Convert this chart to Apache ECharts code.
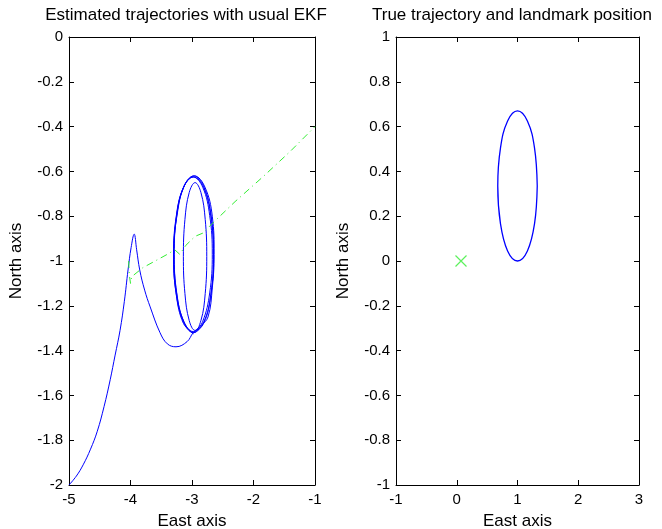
<!DOCTYPE html>
<html>
<head>
<meta charset="utf-8">
<script src="https://cdn.jsdelivr.net/npm/echarts@6/dist/echarts.min.js"></script>
<style>html,body{margin:0;padding:0;background:#fff}#c{width:662px;height:529px}</style>
</head>
<body>
<div id="c"></div>
<script>
// ---- Data ----
var titles = ['Estimated trajectories with usual EKF', 'True trajectory and landmark position'];
var xName = 'East axis';
var yName = 'North axis';

// Left panel: estimated trajectory (blue)
var estApproach = [
  [-5.0,-2.0],[-4.88,-1.96],[-4.77,-1.91],[-4.65,-1.84],[-4.54,-1.76],[-4.43,-1.65],[-4.33,-1.53],
  [-4.25,-1.42],[-4.17,-1.31],[-4.1,-1.18],[-4.04,-1.04],[-3.99,-0.94],[-3.94,-0.88],
  [-3.9,-0.95],[-3.85,-1.04],[-3.77,-1.13],[-3.68,-1.205],[-3.52,-1.32],[-3.4,-1.37],
  [-3.26,-1.383],[-3.08,-1.36],[-2.98,-1.32],[-2.86,-1.29],[-2.74,-1.25]
];
var estLoop1 = [[-2.67,-1.12],[-2.64,-0.97],[-2.67,-0.80],[-2.79,-0.67],[-2.96,-0.62],[-3.12,-0.66],
  [-3.24,-0.79],[-3.30,-0.97],[-3.26,-1.14],[-3.14,-1.27],[-2.98,-1.32]];
var estLoop2 = [[-2.81,-1.273],[-2.69,-1.145],[-2.65,-0.97],[-2.69,-0.795],[-2.81,-0.667],[-2.97,-0.62],
  [-3.13,-0.667],[-3.25,-0.795],[-3.29,-0.97],[-3.25,-1.145],[-3.13,-1.273],[-2.97,-1.32]];
var estLoop3 = [[-2.855,-1.266],[-2.785,-1.145],[-2.76,-0.98],[-2.785,-0.815],[-2.855,-0.694],[-2.95,-0.65],
  [-3.045,-0.694],[-3.115,-0.815],[-3.14,-0.98],[-3.115,-1.145],[-3.045,-1.266],[-2.95,-1.31]];
var estLoop4 = [[-2.825,-1.269],[-2.712,-1.1425],[-2.67,-0.97],[-2.712,-0.7975],[-2.825,-0.671],[-2.98,-0.625],
  [-3.135,-0.671],[-3.248,-0.7975],[-3.29,-0.97],[-3.248,-1.1425],[-3.135,-1.269],[-2.98,-1.315]];
var estLoop5 = [[-2.81,-1.278],[-2.694,-1.15],[-2.65,-0.975],[-2.694,-0.8],[-2.81,-0.672],[-2.975,-0.625],
  [-3.14,-0.672],[-3.256,-0.8],[-3.30,-0.975],[-3.256,-1.15],[-3.14,-1.278],[-2.975,-1.325]];

// Left panel: estimated landmark (green dash-dot)
var estLandmark = [[-4.03,-1.0],[-4.02,-1.06],[-4.0,-1.1],[-3.98,-1.07],[-3.8,-1.03],[-3.6,-1.0],
  [-3.4,-0.97],[-3.28,-0.95],[-3.2,-0.97],[-3.1,-0.93],[-2.95,-0.89],[-2.82,-0.875],[-2.66,-0.83],
  [-2.3,-0.735],[-1.83,-0.62],[-1.4,-0.51],[-1.0,-0.40]];

// Right panel: true trajectory (blue) and landmark (green x)
var trueTraj = [[1.325,0.335],[1.281,0.503],[1.163,0.625],[1.0,0.67],[0.837,0.625],[0.719,0.503],
  [0.675,0.335],[0.719,0.168],[0.837,0.045],[1.0,0.0],[1.163,0.045],[1.281,0.168],[1.325,0.335]];
var trueLandmark = [[0.07,0.0]];

// Axis ranges
var leftX = [-5,-1,1], leftY = [-2,0,0.2];
var rightX = [-1,3,1], rightY = [-1,1,0.2];

var estPath = estApproach.concat(estLoop1, estLoop2, estLoop3, estLoop4, estLoop5);

var FONT = "'Liberation Sans', Arial, sans-serif";
var black = '#000';
function xAx(grid, r, pos, labels) {
  return {
    type:'value', gridIndex:grid, position:pos, min:r[0], max:r[1], interval:r[2],
    axisLine:{show:true, onZero:false, lineStyle:{color:black, width:1}},
    axisTick:{show:true, inside:true, length:5, lineStyle:{color:black}},
    axisLabel:{show:labels, color:black, fontSize:15, fontFamily:FONT, margin:7},
    splitLine:{show:false},
    name: labels ? xName : '', nameLocation:'middle', nameGap:28,
    nameTextStyle:{color:black, fontSize:17, fontFamily:FONT}
  };
}
function yAx(grid, r, pos, labels) {
  return {
    type:'value', gridIndex:grid, position:pos, min:r[0], max:r[1], interval:r[2],
    axisLine:{show:true, onZero:false, lineStyle:{color:black, width:1}},
    axisTick:{show:true, inside:true, length:5, lineStyle:{color:black}},
    axisLabel:{show:labels, color:black, fontSize:15, fontFamily:FONT, margin:6},
    splitLine:{show:false},
    name: labels ? yName : '', nameLocation:'middle', nameGap:44,
    nameTextStyle:{color:black, fontSize:17, fontFamily:FONT}
  };
}

var chart = echarts.init(document.getElementById('c'), null, {renderer:'canvas'});
chart.setOption({
  animation:false,
  backgroundColor:'#fff',
  title:[
    {text:titles[0], left:181, top:2, textAlign:'center', textStyle:{fontSize:17, fontWeight:'normal', color:black, fontFamily:FONT}},
    {text:titles[1], left:507, top:2, textAlign:'center', textStyle:{fontSize:17, fontWeight:'normal', color:black, fontFamily:FONT}}
  ],
  grid:[
    {left:69, right:347, top:37, bottom:44, outerBoundsMode:'none', containLabel:false},
    {left:396, right:23, top:37, bottom:44, outerBoundsMode:'none', containLabel:false}
  ],
  xAxis:[xAx(0,leftX,'bottom',true), xAx(0,leftX,'top',false), xAx(1,rightX,'bottom',true), xAx(1,rightX,'top',false)],
  yAxis:[yAx(0,leftY,'left',true), yAx(0,leftY,'right',false), yAx(1,rightY,'left',true), yAx(1,rightY,'right',false)],
  series:[
    {type:'line', xAxisIndex:0, yAxisIndex:0, data:estPath, showSymbol:false, smooth:0.4,
     lineStyle:{color:'#0000ff', width:1}},
    {type:'line', xAxisIndex:0, yAxisIndex:0, data:estLandmark, showSymbol:false,
     lineStyle:{color:'#33ee33', width:1, type:[7,4,1,4]}},
    {type:'line', xAxisIndex:2, yAxisIndex:2, data:trueTraj, showSymbol:false, smooth:0.4,
     lineStyle:{color:'#0000ff', width:1.3}},
    {type:'scatter', xAxisIndex:2, yAxisIndex:2, data:trueLandmark, symbol:'path://M0,0L10,10M10,0L0,10', symbolSize:11,
     itemStyle:{color:'none', borderColor:'#33ee33', borderWidth:1.2}}
  ]
});
</script>
</body>
</html>
